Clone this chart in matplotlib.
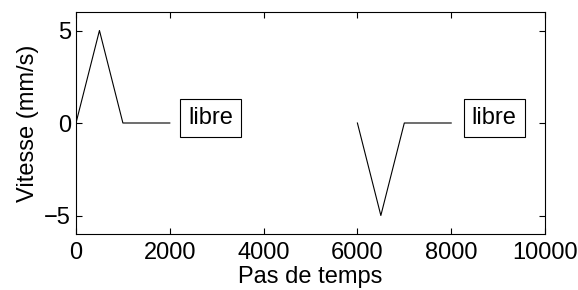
import matplotlib.pyplot as plt

# profils de vitesse (pas de temps, mm/s)
t1 = [0, 500, 1000, 2000]
v1 = [0, 5, 0, 0]
t2 = [6000, 6500, 7000, 8000]
v2 = [0, -5, 0, 0]
labels_txt = ["libre", "libre"]
labels_x = [2390, 8440]
labels_y = [0.28, 0.28]

plt.rcParams['font.family'] = ['Liberation Sans', 'DejaVu Sans']
fig = plt.figure(figsize=(5.78, 2.90), dpi=100)
ax = fig.add_axes([76/578, 1-234/290, (545-76)/578, (234-12)/290])

ax.plot(t1, v1, color='black', lw=0.8)
ax.plot(t2, v2, color='black', lw=0.8)
for x, y, s in zip(labels_x, labels_y, labels_txt):
    ax.text(x, y, s, fontsize=17, ha='left', va='center',
            bbox=dict(boxstyle='square,pad=0.33', fc='white', ec='black', lw=0.8))

ax.set_xlim(0, 10000)
ax.set_ylim(-6, 6)
ax.set_xticks([0, 2000, 4000, 6000, 8000, 10000])
ax.set_yticks([-5, 0, 5])
ax.set_yticklabels(['\u22125', '0', '5'])
ax.tick_params(direction='in', length=4, labelsize=17, width=0.8, top=True, right=True)
ax.tick_params(axis='x', pad=6)
for sp in ax.spines.values():
    sp.set_linewidth(0.8)
ax.set_xlabel('Pas de temps', fontsize=17, labelpad=1)
ax.set_ylabel('Vitesse (mm/s)', fontsize=17, labelpad=4)

fig.savefig('out.png', dpi=100)
